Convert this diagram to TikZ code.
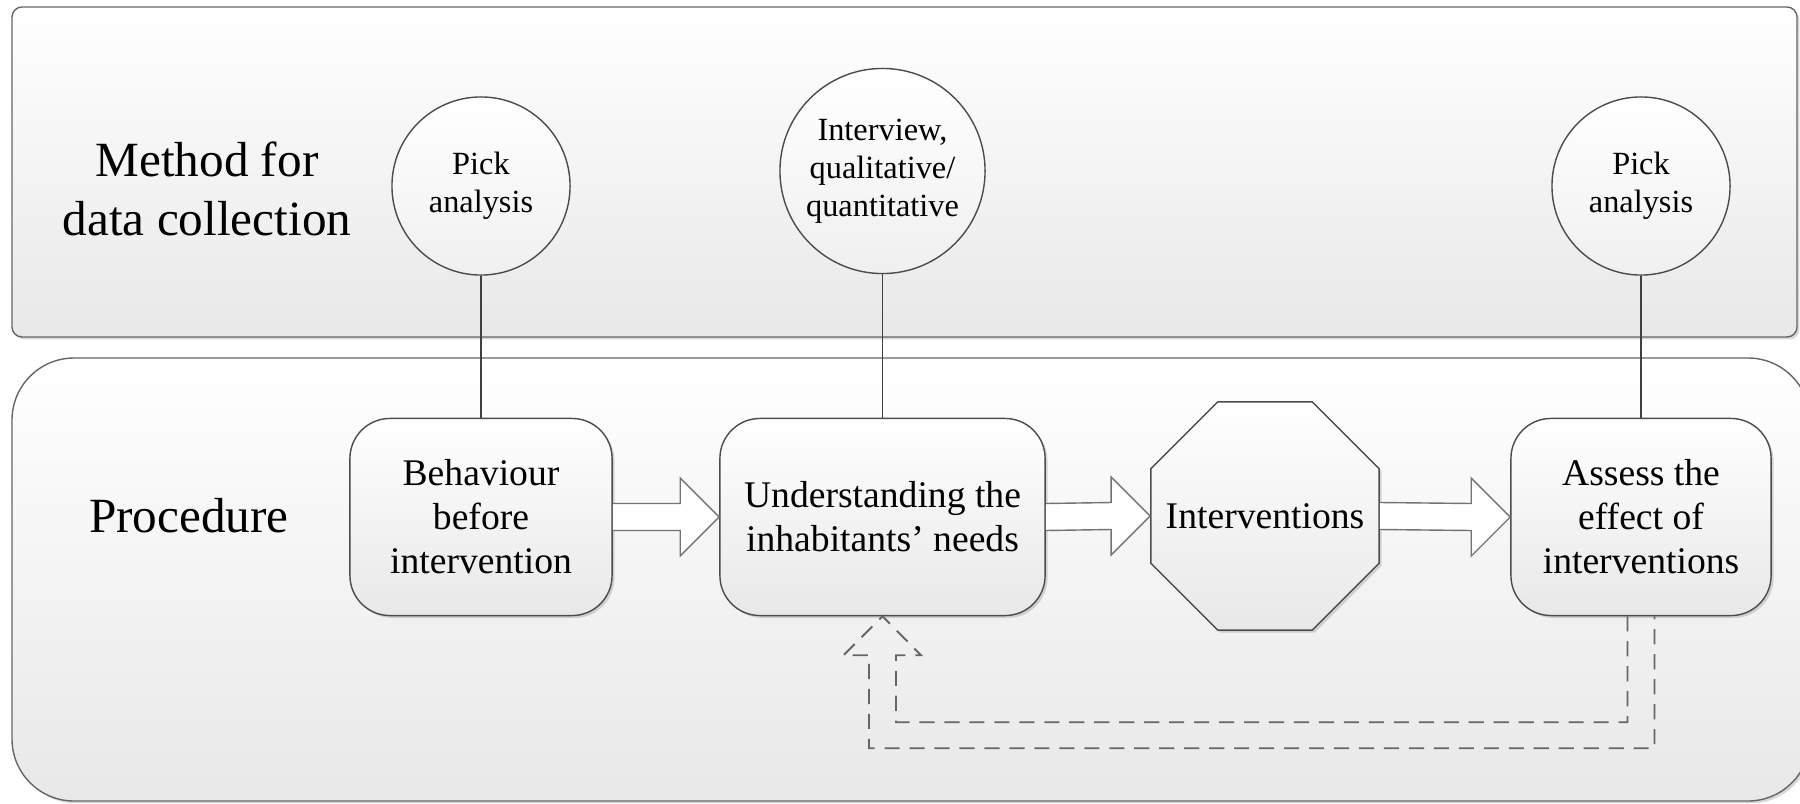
\documentclass[tikz,border=0pt]{standalone}
\usepackage{fontspec}
\setmainfont{Liberation Serif}
\usetikzlibrary{shapes.geometric,calc,shadows}

\tikzset{
  panel/.style={draw=black!60, top color=white, bottom color=black!9,
    drop shadow={shadow xshift=.7pt, shadow yshift=-.7pt, opacity=.3}},
  heading/.style={align=center, font=\fontsize{14}{17}\selectfont},
  stepbox/.style={draw=black!70, rounded corners=0.4cm, top color=white, bottom color=black!9,
    minimum height=1.97cm, align=center, inner sep=0pt, font=\fontsize{10.7}{12.5}\selectfont,
    drop shadow={shadow xshift=.7pt, shadow yshift=-.7pt, opacity=.3}},
  octbox/.style={draw=black!70, regular polygon, regular polygon sides=8, inner sep=0pt,
    top color=white, bottom color=black!9,
    drop shadow={shadow xshift=.7pt, shadow yshift=-.7pt, opacity=.3}},
  method/.style={circle, draw=black!70, top color=white, bottom color=black!6, align=center,
    inner sep=0pt, font=\fontsize{9.2}{10.8}\selectfont},
  blockarr/.style={draw=black!55, fill=white},
  backarr/.style={draw=black!60, line width=0.55pt, dash pattern=on 4.3pt off 2.8pt},
}
\newcommand{\flowarrow}[2]{%
  \filldraw[blockarr] ($(#1.east)+(0,-13.5)$) -- ($(#2.west)+(-39,-13.5)$) -- ($(#2.west)+(-39,-39)$)
    -- (#2.west) -- ($(#2.west)+(-39,39)$) -- ($(#2.west)+(-39,13.5)$) -- ($(#1.east)+(0,13.5)$);}

\begin{document}
\begin{tikzpicture}[x=0.01cm, y=-0.01cm]
\useasboundingbox (0,0) rectangle (1800,803);
\path[panel, rounded corners=0.1cm] (12,7) rectangle (1797,337);
\path[panel, rounded corners=0.62cm] (12,358) rectangle (1810,801);

\node[heading] (method) at (207,189) {Method for\\data collection};
\node[heading] (proc) at (189,516) {Procedure};

\node[stepbox, minimum width=2.62cm] (behav) at (481,517) {Behaviour\\before\\intervention};
\node[stepbox, minimum width=3.25cm] (needs) at (882.5,517) {Understanding the\\inhabitants' needs};
\node[octbox, minimum size=2.47cm,
  label={[font=\fontsize{10.7}{12.5}\selectfont]center:Interventions}] (interv) at (1265,516) {};
\node[stepbox, minimum width=2.6cm] (assess) at (1641,517) {Assess the\\effect of\\interventions};

\node[method, minimum size=1.78cm] (pick1) at (481,186) {Pick\\analysis};
\node[method, minimum size=2.05cm] (intv) at (882.5,171) {Interview,\\qualitative/\\quantitative};
\node[method, minimum size=1.78cm] (pick2) at (1641,186) {Pick\\analysis};

\draw[black!75] (pick1) -- (behav);
\draw[black!75] (intv) -- (needs);
\draw[black!75] (pick2) -- (assess);

\flowarrow{behav}{needs}
\flowarrow{needs}{interv}
\flowarrow{interv}{assess}

\draw[backarr] ($(assess.south)+(-13.5,0)$) -- ++(0,106) -| ($(needs.south)+(13.5,39)$) -- ++(25,0)
  -- (needs.south) -- ++(-39,39) -- ++(25.5,0) |- ($(assess.south)+(13.5,132)$) -- ++(0,-132);
\end{tikzpicture}
\end{document}
